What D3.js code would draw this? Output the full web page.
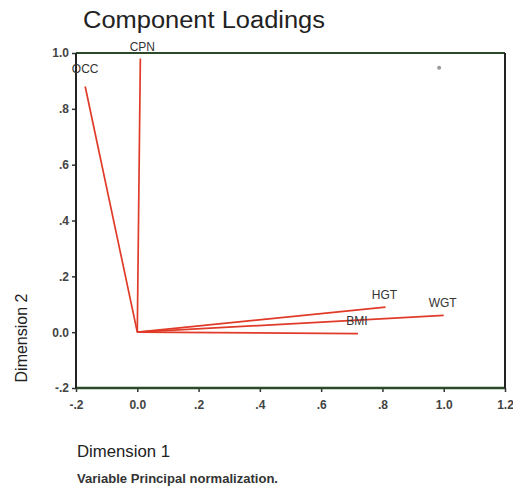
<!DOCTYPE html>
<html>
<head>
<meta charset="utf-8">
<script src="https://cdn.jsdelivr.net/npm/d3@7"></script>
<style>
  body { margin: 0; background: #fff; }
  text { font-family: "Liberation Sans", Arial, sans-serif; }
</style>
</head>
<body>
<svg id="chart" width="513" height="495"></svg>
<script>
// Data
const variables = ["CPN", "OCC", "HGT", "WGT", "BMI"];
const dim1 = [0.01, -0.17, 0.81, 1.0, 0.72];
const dim2 = [0.98, 0.88, 0.09, 0.06, -0.005];
const xTicks = [-0.2, 0.0, 0.2, 0.4, 0.6, 0.8, 1.0, 1.2];
const yTicks = [-0.2, 0.0, 0.2, 0.4, 0.6, 0.8, 1.0];
const xTickLabels = ["-.2", "0.0", ".2", ".4", ".6", ".8", "1.0", "1.2"];
const yTickLabels = ["-.2", "0.0", ".2", ".4", ".6", ".8", "1.0"];
const strayPoint = [0.985, 0.947];

(function () {
const svg = d3.select("#chart");
const pLeft = 76, pRight = 505, pTop = 53, pBottom = 388;

const x = d3.scaleLinear().domain([-0.2, 1.2]).range([pLeft, pRight]);
const y = d3.scaleLinear().domain([-0.2, 1.0]).range([pBottom, pTop]);

// Title
svg.append("text").attr("x", 83).attr("y", 28)
  .attr("font-size", 23).attr("fill", "#222")
  .attr("textLength", 242).attr("lengthAdjust", "spacingAndGlyphs")
  .text("Component Loadings");

// Axes
const xAxis = d3.axisBottom(x).tickValues(xTicks)
  .tickFormat((d, i) => xTickLabels[i]).tickSize(4).tickPadding(8);
const yAxis = d3.axisLeft(y).tickValues(yTicks)
  .tickFormat((d, i) => yTickLabels[i]).tickSize(4).tickPadding(3);

const gx = svg.append("g").attr("transform", `translate(0,${pBottom})`).call(xAxis);
const gy = svg.append("g").attr("transform", `translate(${pLeft},0)`).call(yAxis);
[gx, gy].forEach(g => {
  g.select(".domain").remove();
  g.selectAll(".tick line").attr("stroke", "#333").attr("stroke-width", 1.5);
  g.selectAll(".tick text").attr("font-size", 12).attr("font-weight", "bold")
    .attr("fill", "#444").attr("font-family", "Liberation Sans, Arial, sans-serif");
});

// Frame
svg.append("line").attr("x1", pLeft).attr("x2", pRight).attr("y1", pTop).attr("y2", pTop)
  .attr("stroke", "#2a4a2a").attr("stroke-width", 2);
svg.append("line").attr("x1", pLeft).attr("x2", pRight).attr("y1", pBottom).attr("y2", pBottom)
  .attr("stroke", "#2a4a2a").attr("stroke-width", 2.5);
svg.append("line").attr("x1", pLeft).attr("x2", pLeft).attr("y1", pTop).attr("y2", pBottom)
  .attr("stroke", "#222").attr("stroke-width", 2);
svg.append("line").attr("x1", pRight).attr("x2", pRight).attr("y1", pTop).attr("y2", pBottom)
  .attr("stroke", "#222").attr("stroke-width", 2);

// Loading vectors
svg.append("g").selectAll("line").data(variables).join("line")
  .attr("x1", x(0)).attr("y1", y(0))
  .attr("x2", (d, i) => x(dim1[i])).attr("y2", (d, i) => y(dim2[i]))
  .attr("stroke", "#e03a28").attr("stroke-width", 1.7);

// Labels
const labelOffsets = {
  CPN: [2, -8, "middle"],
  OCC: [0, -14, "middle"],
  HGT: [-1, -8, "middle"],
  WGT: [-1, -8, "middle"],
  BMI: [-1, -9, "middle"]
};
svg.append("g").selectAll("text").data(variables).join("text")
  .attr("x", (d, i) => x(dim1[i]) + labelOffsets[d][0])
  .attr("y", (d, i) => y(dim2[i]) + labelOffsets[d][1])
  .attr("text-anchor", d => labelOffsets[d][2])
  .attr("font-size", 12).attr("fill", "#333")
  .text(d => d);

// Stray point
svg.append("circle").attr("cx", x(strayPoint[0])).attr("cy", y(strayPoint[1]))
  .attr("r", 2).attr("fill", "#999");

// Axis titles
svg.append("text").attr("x", 77).attr("y", 457)
  .attr("font-size", 16).attr("fill", "#222")
  .attr("textLength", 93).attr("lengthAdjust", "spacingAndGlyphs")
  .text("Dimension 1");
svg.append("text").attr("transform", "translate(27,338) rotate(-90)")
  .attr("text-anchor", "middle")
  .attr("font-size", 16).attr("fill", "#222")
  .text("Dimension 2");

// Footnote
svg.append("text").attr("x", 77).attr("y", 483)
  .attr("font-size", 12).attr("font-weight", "bold").attr("fill", "#333")
  .attr("textLength", 201).attr("lengthAdjust", "spacingAndGlyphs")
  .text("Variable Principal normalization.");
})();
</script>
</body>
</html>
